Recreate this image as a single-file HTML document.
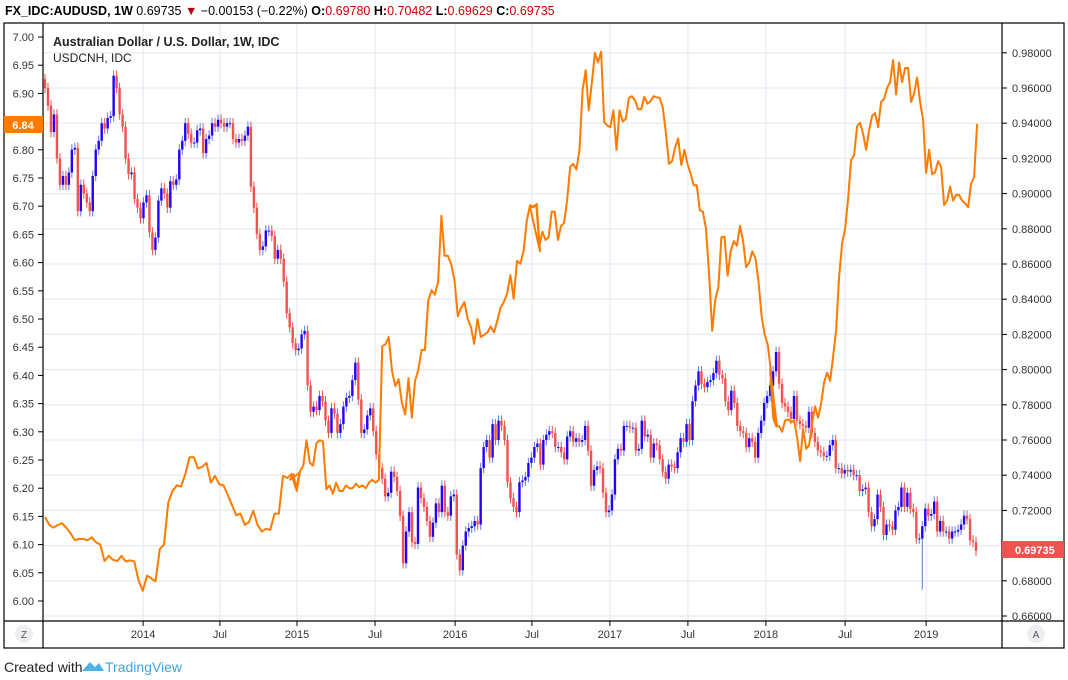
<!DOCTYPE html>
<html><head><meta charset="utf-8"><style>
body{margin:0;background:#fff;font-family:"Liberation Sans",sans-serif;}
svg{display:block}
</style></head><body>
<svg id="chart" width="1068" height="680" xmlns="http://www.w3.org/2000/svg" font-family="Liberation Sans, sans-serif">
<g id="grid"></g>
<g id="candles"></g>
<path id="cnh" fill="none" stroke="#ff7b00" stroke-width="2" stroke-linejoin="round"/>
<g id="axes"></g>
<rect x="4" y="23" width="1060" height="625" fill="none" stroke="#000" stroke-width="1.2"/>
<line x1="43" y1="23" x2="43" y2="648" stroke="#000" stroke-width="1.2"/>
<line x1="1002" y1="23" x2="1002" y2="648" stroke="#000" stroke-width="1.2"/>
<line x1="4" y1="621" x2="1064" y2="621" stroke="#000" stroke-width="1.2"/>
<text x="5" y="15" font-size="12.5"><tspan font-weight="bold">FX_IDC:AUDUSD, 1W</tspan> 0.69735 <tspan fill="#b00">▼</tspan> −0.00153 (−0.22%) <tspan font-weight="bold">O:</tspan><tspan fill="#c00">0.69780</tspan> <tspan font-weight="bold">H:</tspan><tspan fill="#c00">0.70482</tspan> <tspan font-weight="bold">L:</tspan><tspan fill="#c00">0.69629</tspan> <tspan font-weight="bold">C:</tspan><tspan fill="#c00">0.69735</tspan></text>
<text x="53" y="46" font-size="12.5" font-weight="bold" fill="#222">Australian Dollar / U.S. Dollar, 1W, IDC</text>
<text x="53" y="62" font-size="12" fill="#222">USDCNH, IDC</text>
<rect x="4" y="116" width="39" height="17" fill="#ff7b00"/>
<text x="23" y="129" font-size="11" fill="#fff" font-weight="bold" text-anchor="middle">6.84</text>
<rect x="1002" y="541" width="62" height="17" fill="#ef5350"/>
<text x="1015" y="554" font-size="11" fill="#fff" font-weight="bold">0.69735</text>
<circle cx="24" cy="634" r="9" fill="#eceef2"/>
<text x="24" y="638" font-size="10" fill="#555" text-anchor="middle">Z</text>
<circle cx="1036" cy="634" r="9" fill="#eceef2"/>
<text x="1036" y="638" font-size="10" fill="#555" text-anchor="middle">A</text>
<text x="4" y="672" font-size="14" fill="#222">Created with</text>
<path d="M82 671 L90 662 L95 667 L99 663 L104 671 Z" fill="#4fb3e8"/>
<text x="105" y="672" font-size="14" fill="#3ba7e0">TradingView</text>
</svg>
<script>
const closes=[0.96,0.95,0.935,0.945,0.92,0.905,0.91,0.905,0.912,0.925,0.926,0.89,0.905,0.9,0.895,0.89,0.91,0.925,0.93,0.94,0.937,0.943,0.944,0.967,0.96,0.945,0.938,0.92,0.911,0.912,0.897,0.892,0.886,0.895,0.899,0.878,0.868,0.875,0.896,0.903,0.9,0.892,0.907,0.905,0.908,0.925,0.93,0.94,0.934,0.929,0.929,0.936,0.937,0.923,0.931,0.933,0.94,0.938,0.942,0.94,0.938,0.94,0.94,0.931,0.929,0.931,0.93,0.933,0.938,0.904,0.892,0.877,0.868,0.87,0.879,0.879,0.876,0.863,0.868,0.863,0.85,0.832,0.824,0.815,0.811,0.812,0.82,
0.822,0.791,0.776,0.779,0.777,0.785,0.782,0.771,0.764,0.778,0.775,0.764,0.769,0.779,0.784,0.785,0.794,0.804,0.783,0.764,0.766,0.774,0.778,0.765,0.752,0.744,0.738,0.728,0.73,0.742,0.739,0.731,0.717,0.69,0.708,0.719,0.702,0.701,0.733,0.727,0.722,0.714,0.705,0.713,0.724,0.719,0.734,0.719,0.717,0.728,0.729,0.695,0.686,0.70,0.708,0.71,0.711,0.714,0.712,0.744,0.756,0.76,0.75,0.769,0.76,0.771,0.768,0.76,0.736,0.727,0.722,0.719,0.736,0.737,0.739,0.747,0.75,0.756,0.758,0.746,
0.76,0.763,0.765,0.764,0.756,0.756,0.753,0.749,0.762,0.765,0.759,0.761,0.759,0.76,0.768,0.754,0.734,0.743,0.745,0.744,0.73,0.719,0.72,0.729,0.749,0.755,0.754,0.768,0.768,0.767,0.767,0.754,0.755,0.771,0.762,0.763,0.75,0.758,0.757,0.749,0.742,0.738,0.746,0.745,0.744,0.753,0.761,0.759,0.769,0.76,0.782,0.791,0.799,0.792,0.79,0.793,0.794,0.798,0.805,0.797,0.795,0.782,0.777,0.788,0.781,0.768,0.765,0.764,0.756,0.761,0.759,0.75,0.764,0.771,0.781,0.785,0.791,0.799,0.81,0.792,
0.781,0.779,0.776,0.772,0.785,0.771,0.769,0.768,0.767,0.776,0.764,0.759,0.754,0.753,0.751,0.751,0.757,0.76,0.744,0.744,0.741,0.743,0.742,0.743,0.74,0.74,0.731,0.732,0.733,0.719,0.711,0.715,0.729,0.722,0.706,0.712,0.711,0.709,0.72,0.722,0.733,0.722,0.73,0.721,0.719,0.704,0.704,0.711,0.721,0.717,0.718,0.725,0.708,0.714,0.708,0.708,0.704,0.708,0.708,0.709,0.712,0.717,0.715,0.703,0.702,0.697];
const firstOpen=0.965;
const spikeWeeksFromEnd=18;
const spikeLow=0.675;
const cnhSeg1=[6.149,6.135,6.13,6.135,6.138,6.13,6.12,6.108,6.11,6.11,6.108,6.113,6.104,6.10,6.071,6.08,6.073,6.071,6.08,6.07,6.072,6.07,6.037,6.018,6.045,6.04,6.035,6.092,6.10,6.175,6.195,6.205,6.203,6.225,6.255,6.255,6.235,6.238,6.245,6.21,6.222,6.207,6.205,6.188,6.17,6.152,6.155,6.135,6.14,6.16,6.135,6.123,6.128,6.126,6.155,6.155,6.222,6.218,6.225,6.20,6.228];
const cnhSeg2=[6.215,6.225,6.195,6.23,6.24,6.285,6.245,6.24,6.28,6.285,6.283,6.198,6.205,6.19,6.21,6.195,6.195,6.205,6.20,6.20,6.208,6.202,6.205,6.20,6.21,6.215,6.21,6.215,6.452,6.455,6.468,6.408,6.381,6.393,6.351,6.331,6.395,6.325,6.39,6.41,6.445,6.445,6.532,6.551,6.543,6.566,6.683,6.612,6.612,6.597,6.569,6.505,6.52,6.53,6.50,6.486,6.456,6.5,6.468,6.472,6.476,6.487,6.476,6.497,6.52,6.53,6.545,6.578,6.536,6.603,6.598,6.62,6.675,6.702,6.698,6.704,6.62];
const cnhSeg3=[6.698,6.70,6.702,6.631,6.655,6.64,6.645,6.69,6.69,6.64,6.665,6.67,6.71,6.77,6.775,6.765,6.80,6.906,6.941,6.87,6.918,6.972,6.955,6.974,6.849,6.843,6.84,6.87,6.80,6.87,6.85,6.855,6.892,6.895,6.888,6.872,6.872,6.894,6.882,6.886,6.895,6.893,6.892,6.875,6.83,6.775,6.78,6.805,6.82,6.773,6.80,6.775,6.758,6.737,6.737,6.693,6.69,6.66,6.58,6.479,6.535,6.557,6.645,6.646,6.577,6.62,6.638,6.63,6.665,6.638,6.592,6.60,6.62,6.608,6.567,6.505,6.472,6.455,6.41,6.325,6.31];
const cnhSeg4=[6.411,6.325,6.31,6.31,6.30,6.32,6.322,6.317,6.32,6.29,6.248,6.305,6.27,6.276,6.315,6.345,6.325,6.35,6.388,6.405,6.39,6.433,6.48,6.575,6.634,6.66,6.713,6.782,6.79,6.842,6.848,6.828,6.80,6.835,6.86,6.865,6.84,6.885,6.89,6.91,6.92,6.959,6.898,6.955,6.92,6.945,6.945,6.885,6.90,6.928,6.885,6.853,6.759,6.80,6.757,6.76,6.78,6.77,6.702,6.71,6.735,6.71,6.72,6.72,6.71,6.705,6.698,6.74,6.752,6.846];
const cnhSegWeeks=[[0,85],[81.7,165],[161.7,244],[241.7,310.7]];
const tickLabels=["2014","Jul","2015","Jul","2016","Jul","2017","Jul","2018","Jul","2019"];
const tickWeeks=[32.7,58.3,84,110,136.7,162.3,188.3,214.3,240.3,266.7,293.7];
const leftTicks=[6.00,6.05,6.10,6.15,6.20,6.25,6.30,6.35,6.40,6.45,6.50,6.55,6.60,6.65,6.70,6.75,6.80,6.85,6.90,6.95,7.00];
const rightTicks=[0.66,0.68,0.70,0.72,0.74,0.76,0.78,0.80,0.82,0.84,0.86,0.88,0.90,0.92,0.94,0.96,0.98];

const NS="http://www.w3.org/2000/svg";
const xW=w=>45+w*3.0;
const yL=v=>601-(v-6)*564;
const yR=v=>616-(v-0.66)*1760;
function mk(tag,attrs,parent){const e=document.createElementNS(NS,tag);for(const k in attrs)e.setAttribute(k,attrs[k]);parent.appendChild(e);return e;}
const grid=document.getElementById('grid'),axes=document.getElementById('axes'),cg=document.getElementById('candles');
rightTicks.forEach(v=>{const y=yR(v);
 const g=mk('line',{x1:43,x2:1002,y1:y,y2:y,stroke:'#e3ebf3','stroke-width':1.2},grid);
 
 
 mk('line',{x1:1002,x2:1007,y1:y,y2:y,stroke:'#000'},axes);
 const t=mk('text',{x:1012,y:y+4,'font-size':11,fill:'#333'},axes);t.textContent=v.toFixed(5);
 
 
});
tickWeeks.forEach((w,i)=>{const x=xW(w);
 const g=mk('line',{x1:x,x2:x,y1:23,y2:621,stroke:'#e3ebf3','stroke-width':1.2},grid);
 
 
 mk('line',{x1:x,x2:x,y1:621,y2:626,stroke:'#000'},axes);
 const t=mk('text',{x:x,y:638,'font-size':11,fill:'#333','text-anchor':'middle'},axes);t.textContent=tickLabels[i];
 
 
});
leftTicks.forEach(v=>{const y=yL(v);
 mk('line',{x1:38,x2:43,y1:y,y2:y,stroke:'#000'},axes);
 const t=mk('text',{x:34,y:y+4,'font-size':11,fill:'#333','text-anchor':'end'},axes);t.textContent=v.toFixed(2);
 
 
});
const n=closes.length, step=(976-45)/(n-1);
closes.forEach((c,i)=>{
 const o=i?closes[i-1]:firstOpen;const up=c>=o;
 let hi=Math.max(o,c)+0.003, lo=Math.min(o,c)-0.003;
 if(i===n-1-spikeWeeksFromEnd) lo=spikeLow;
 const x=45+i*step;
 const w=mk('line',{x1:x,x2:x,y1:yR(hi),y2:yR(lo),stroke:up?'#5c7ce6':'#ef5350','stroke-width':1},cg);
 
 
 const top=yR(Math.max(o,c)),bot=yR(Math.min(o,c));
 const b=mk('rect',{x:x-1.2,y:top,width:2.4,height:Math.max(1,bot-top),fill:up?'#2400ff':'#ef5350'},cg);
 
 
});
const segs=[cnhSeg1,cnhSeg2,cnhSeg3,cnhSeg4];let d='';
segs.forEach((s,k)=>{const [a,b]=cnhSegWeeks[k];
 s.forEach((v,i)=>{const w=a+(b-a)*i/(s.length-1);d+=(d?'L':'M')+xW(w).toFixed(1)+' '+yL(v).toFixed(1);});});
document.getElementById('cnh').setAttribute('d',d);
</script>
</body></html>
